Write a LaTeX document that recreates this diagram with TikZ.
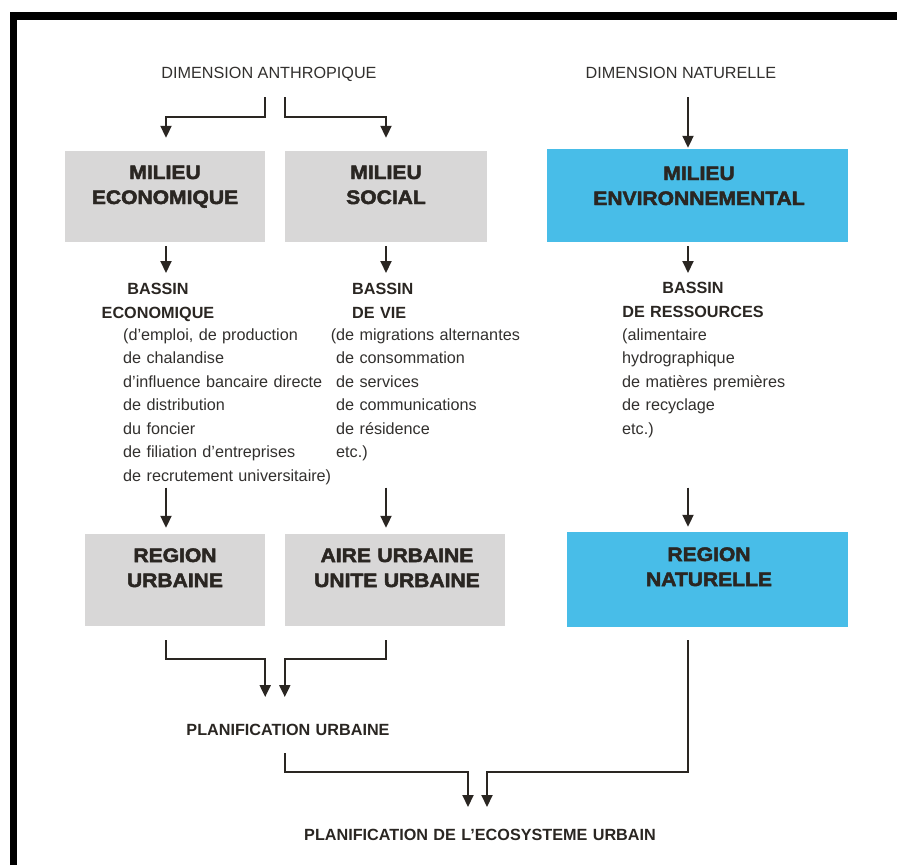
\documentclass[tikz,border=0pt]{standalone}
\usepackage{fontspec}
\setmainfont{Liberation Sans}
\newfontfamily\heavyfont{Liberation Sans}[BoldFeatures={FakeBold=2.5,FakeStretch=1.08}]
\usepackage{tikz}
\usetikzlibrary{arrows.meta,calc}
\definecolor{ink}{RGB}{42,38,34}
\definecolor{txt}{RGB}{50,48,46}
\definecolor{boxgrey}{RGB}{216,215,215}
\definecolor{boxblue}{RGB}{72,189,232}

\begin{document}
\begin{tikzpicture}[x=1pt,y=-1pt,>={Triangle[length=12pt,width=11pt]},
  greybox/.style={fill=boxgrey,inner sep=0,minimum height=91pt},
  bluebox/.style={fill=boxblue,inner sep=0,minimum height=94pt},
  boxtitle/.style={anchor=base,inner sep=0,text width=300pt,align=center,text=ink,
    font=\heavyfont\bfseries\fontsize{19.5}{25}\selectfont},
  head/.style={anchor=base,inner sep=0,text=txt,font=\fontsize{16.2}{23.5}\selectfont},
  bassin/.style={anchor=base,inner sep=0,text width=400pt,align=center,text=ink,
    font=\bfseries\fontsize{16.2}{24}\selectfont},
  lst/.style={anchor=base west,inner sep=0,text width=240pt,align=left,text=txt,
    font=\fontsize{16.2}{23.5}\selectfont},
  arr/.style={->,draw=ink,line width=2pt}]
 \useasboundingbox (0,0) rectangle (897,865);
 \fill[white] (0,0) rectangle (897,865);
 % frame
 \draw[line width=7.5pt] (13.5,865) -- (13.5,16) -- (897,16);
 % headings
 \node[head] (anth) at (269,78) {DIMENSION ANTHROPIQUE};
 \node[head] (natu) at (681,78) {DIMENSION NATURELLE};
 % column axes
 \coordinate (colA) at (166,0);
 \coordinate (colB) at (386,0);
 \coordinate (colC) at (688,0);
 % milieux
 \node[greybox,minimum width=200pt] (eco) at (165,196.5) {};
 \node[greybox,minimum width=202pt] (soc) at (386,196.5) {};
 \node[bluebox,minimum width=301pt,minimum height=93pt] (env) at (697.5,195.5) {};
 \node[boxtitle] (ecoT) at (165,179) {MILIEU\\ECONOMIQUE};
 \node[boxtitle] (socT) at (386,179) {MILIEU\\SOCIAL};
 \node[boxtitle] (envT) at (699,180) {MILIEU\\ENVIRONNEMENTAL};
 % bassins
 \node[bassin] (bassE) at (158,294) {BASSIN\\ECONOMIQUE};
 \node[bassin,anchor=base west,align=left] (bassV) at (352,294) {BASSIN\\DE VIE};
 \node[bassin] (bassR) at (693,293) {BASSIN\\DE RESSOURCES};
 \node[lst] (lstE) at (123,340) {(d'emploi, de production\\de chalandise\\d'influence bancaire directe\\de distribution\\du foncier\\de filiation d'entreprises\\de recrutement universitaire)};
 \node[lst] (lstV) at (336,340) {\llap{(}de migrations alternantes\\de consommation\\de services\\de communications\\de résidence\\etc.)};
 \node[lst] (lstR) at (622,340) {(alimentaire\\hydrographique\\de matières premières\\de recyclage\\etc.)};
 % regions
 \node[greybox,minimum width=180pt,minimum height=92pt] (regU) at (175,580) {};
 \node[greybox,minimum width=220pt,minimum height=92pt] (aire) at (395,580) {};
 \node[bluebox,minimum width=281pt,minimum height=95pt] (regN) at (707.5,579.5) {};
 \node[boxtitle] (regUT) at (175,562) {REGION\\URBAINE};
 \node[boxtitle] (aireT) at (397,562) {AIRE URBAINE\\UNITE URBAINE};
 \node[boxtitle] (regNT) at (709,561) {REGION\\NATURELLE};
 % planification
 \node[bassin] (planU) at (288,735) {PLANIFICATION URBAINE};
 \node[bassin] (planE) at (480,840) {PLANIFICATION DE L'ECOSYSTEME URBAIN};
 % connectors
 \draw[arr,shorten >=13pt] ($(anth.base -| eco.east)+(0,19)$) -- ++(0,20) -| (eco.north -| colA);
 \draw[arr,shorten >=13pt] ($(anth.base -| soc.west)+(0,19)$) -- ++(0,20) -| (soc.north -| colB);
 \draw[arr,shorten >=1pt] ($(natu.base -| colC)+(0,19)$) -- (env.north -| colC);
 \draw[arr,shorten <=4pt] (eco.south -| colA) -- ($(bassE.base -| colA)+(0,-21)$);
 \draw[arr,shorten <=4pt] (soc.south -| colB) -- ($(bassV.base -| colB)+(0,-21)$);
 \draw[arr,shorten <=4pt] (env.south -| colC) -- ($(bassR.base -| colC)+(0,-20)$);
 \draw[arr,shorten >=6pt] ($(lstE.south -| colA)+(0,3)$) -- (regU.north -| colA);
 \draw[arr,shorten >=6pt] ($(lstE.south -| colB)+(0,3)$) -- (aire.north -| colB);
 \draw[arr,shorten >=5pt] ($(lstE.south -| colC)+(0,3)$) -- (regN.north -| colC);
 \draw[arr] ($(regU.south -| colA)+(0,14)$) -- ++(0,19) -| ($(planU.base -| regU.east)+(0,-38)$);
 \draw[arr] ($(aire.south -| colB)+(0,14)$) -- ++(0,19) -| ($(planU.base -| aire.west)+(0,-38)$);
 \draw[arr] ($(planU.base -| aire.west)+(0,18)$) -- ++(0,19) -| ($(planE.base)+(-12,-33)$);
 \draw[arr] ($(regN.south -| colC)+(0,13)$) -- ++(0,132) -| ($(planE.base)+(7,-33)$);
\end{tikzpicture}
\end{document}
